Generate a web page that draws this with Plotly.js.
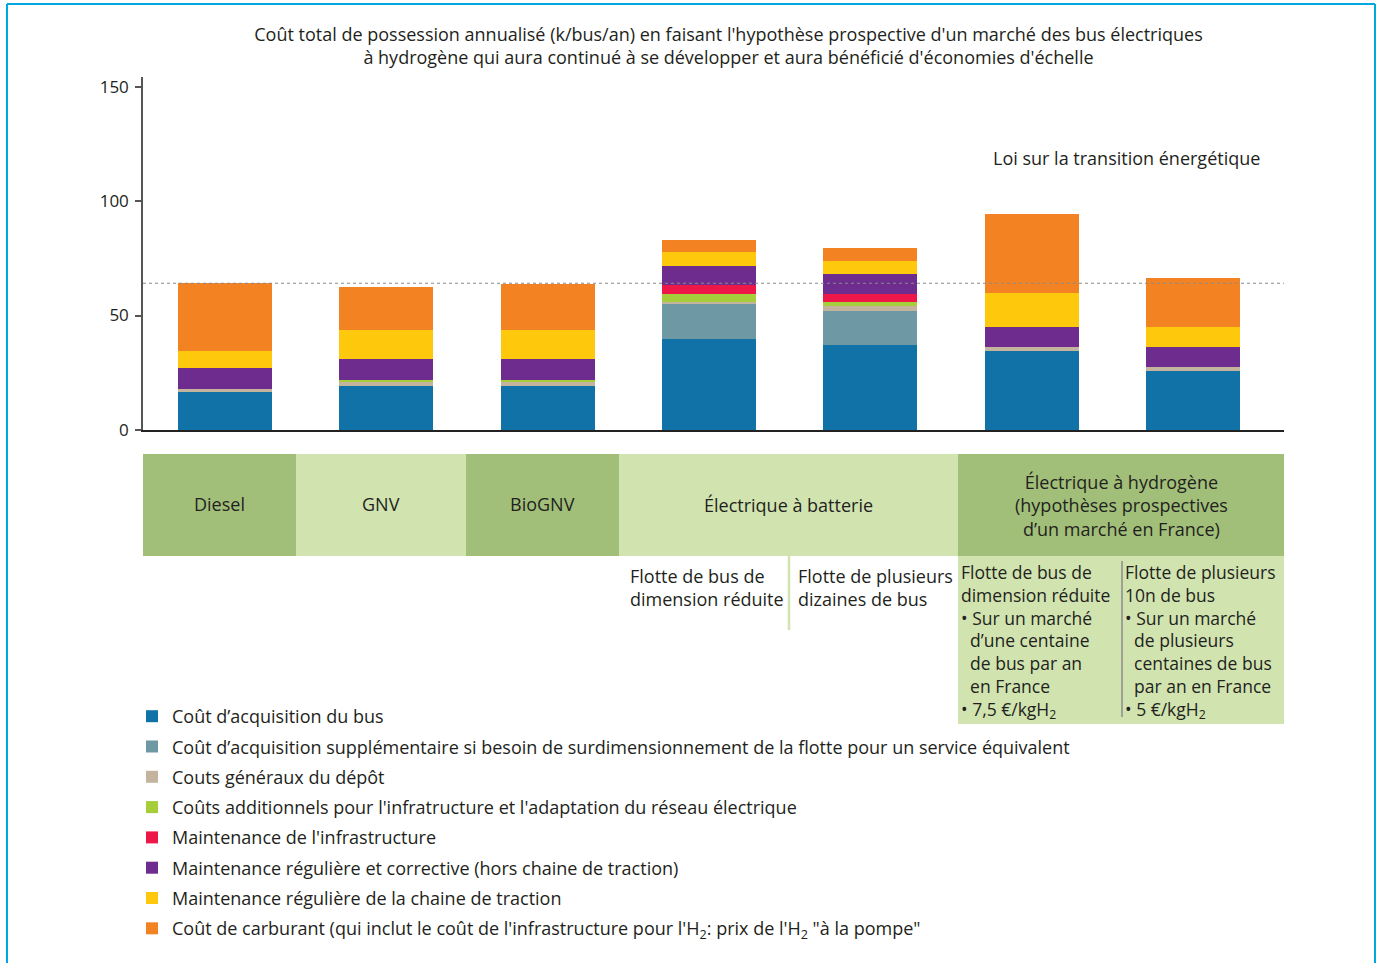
<!DOCTYPE html>
<html>
<head>
<meta charset="utf-8">
<script src="https://cdn.plot.ly/plotly-3.0.1.min.js"></script>
<style>html,body{margin:0;padding:0;background:#fff;}#chart{width:1381px;height:963px;}</style>
</head>
<body>
<div id="chart"></div>
<script>
// ---------- DATA ----------
const categories = [
  "Diesel",
  "GNV",
  "BioGNV",
  "Électrique à batterie – flotte réduite",
  "Électrique à batterie – plusieurs dizaines",
  "Électrique à hydrogène – flotte réduite",
  "Électrique à hydrogène – plusieurs 10n"
];
const acquisitionBus        = [16.7, 19.2, 19.2, 39.8, 37.1, 34.5, 25.8];
const acquisitionSupp       = [0,    0,    0,    15.2, 14.9, 0,    0   ];
const coutsDepot            = [1.2,  1.8,  1.8,  0.9,  2.2,  1.8,  1.7 ];
const coutsInfraReseau      = [0,    1.0,  1.0,  3.5,  1.7,  0,    0   ];
const maintenanceInfra      = [0,    0,    0,    3.9,  3.5,  0,    0   ];
const maintenanceReguliere  = [9.3,  9.0,  9.0,  8.3,  8.7,  8.7,  8.8 ];
const maintenanceTraction   = [7.3,  12.7, 12.7, 6.2,  5.7,  14.9, 8.7 ];
const coutCarburant         = [29.6, 18.8, 20.2, 5.2,  5.7,  34.5, 21.4];

const seriesNames = [
  "Coût d’acquisition du bus",
  "Coût d’acquisition supplémentaire si besoin de surdimensionnement de la flotte pour un service équivalent",
  "Couts généraux du dépôt",
  "Coûts additionnels pour l'infratructure et l'adaptation du réseau électrique",
  "Maintenance de l'infrastructure",
  "Maintenance régulière et corrective (hors chaine de traction)",
  "Maintenance régulière de la chaine de traction",
  "Coût de carburant (qui inclut le coût de l'infrastructure pour l'H<sub>2</sub>: prix de l'H<sub>2</sub> \"à la pompe\""
];
const seriesValues = [acquisitionBus, acquisitionSupp, coutsDepot, coutsInfraReseau,
  maintenanceInfra, maintenanceReguliere, maintenanceTraction, coutCarburant];
const seriesColors = ["#1172a8", "#6f98a5", "#c4b49d", "#a6cd3a", "#ed1847", "#6e2c8e", "#fec90c", "#f38223"];

const yTickVals = [0, 50, 100, 150];
const titleText = "Coût total de possession annualisé (k/bus/an) en faisant l'hypothèse prospective d'un marché des bus électriques<br>à hydrogène qui aura continué à se développer et aura bénéficié d'économies d'échelle";
const lawLabel = "Loi sur la transition énergétique";
const groupLabels = ["Diesel", "GNV", "BioGNV", "Électrique à batterie"];
const hydrogenLabel = ["Électrique à hydrogène", "(hypothèses prospectives", "d’un marché en France)"];
const batterySmall = ["Flotte de bus de", "dimension réduite"];
const batteryLarge = ["Flotte de plusieurs", "dizaines de bus"];
const h2Small = ["Flotte de bus de", "dimension réduite", "• Sur un marché", "\u00a0\u00a0d’une centaine", "\u00a0\u00a0de bus par an", "\u00a0\u00a0en France", "• 7,5 €/kgH<sub>2</sub>"];
const h2Large = ["Flotte de plusieurs", "10n de bus", "• Sur un marché", "\u00a0\u00a0de plusieurs", "\u00a0\u00a0centaines de bus", "\u00a0\u00a0par an en France", "• 5 €/kgH<sub>2</sub>"];
// reference level = total of the Diesel bar
const referenceLevel = seriesValues.reduce((s, arr) => s + arr[0], 0);

// ---------- LAYOUT HELPERS (pixel -> paper) ----------
const W = 1381, H = 963, L = 143, R = 97;
const PW = W - L - R;
const X = px => (px - L) / PW;
const Y = py => 1 - py / H;
const FONT = "Open Sans, Liberation Sans, Arial, sans-serif";
const FS = 18;
const TXT = "#231f20";
const DARK = "#a2bf7a", LIGHT = "#d1e4b0";

const traces = seriesNames.map((name, i) => ({
  type: "bar",
  x: categories,
  y: seriesValues[i],
  name: name,
  legendgroup: "g" + i,
  marker: { color: seriesColors[i], line: { width: 0 } },
  hoverinfo: "name+y"
}));

function rect(x0, x1, y0, y1, color) {
  return { type: "rect", xref: "paper", yref: "paper", x0: X(x0), x1: X(x1), y0: Y(y1), y1: Y(y0),
    fillcolor: color, line: { width: 0 }, layer: "below" };
}
function vline(x, y0, y1, color, w) {
  return { type: "line", xref: "paper", yref: "paper", x0: X(x), x1: X(x), y0: Y(y0), y1: Y(y1),
    line: { color: color, width: w } };
}
function txt(text, x, y, xanchor, size) {
  return { text: Array.isArray(text) ? text.join("<br>") : text, xref: "paper", yref: "paper", x: X(x), y: Y(y),
    xanchor: xanchor, yanchor: "middle", showarrow: false, align: xanchor,
    font: { family: FONT, size: size || FS, color: TXT } };
}

const shapes = [
  // frame
  { type: "line", xref: "paper", yref: "paper", x0: X(7), x1: X(1375), y0: Y(4), y1: Y(4), line: { color: "#00a8e1", width: 2 } },
  vline(7, 4, 963, "#00a8e1", 2),
  vline(1375, 4, 963, "#00a8e1", 2),
  // reference dotted line
  { type: "line", xref: "paper", yref: "y", x0: 0, x1: 1, y0: referenceLevel, y1: referenceLevel,
    line: { color: "#8a8a8a", width: 1.2, dash: "dot" } },
  // category boxes
  rect(143, 296, 454, 556, DARK),
  rect(296, 466, 454, 556, LIGHT),
  rect(466, 619, 454, 556, DARK),
  rect(619, 958, 454, 556, LIGHT),
  rect(958, 1284, 454, 556, DARK),
  rect(958, 1284, 556, 724, LIGHT),
  vline(789, 556, 630, LIGHT, 2.5),
  vline(1122, 561, 717, "#8c8c8c", 1.5)
];

const annotations = [
  txt(lawLabel, 991, 158, "left"),
  txt(groupLabels[0], 219.5, 504, "center"),
  txt(groupLabels[1], 381, 504, "center"),
  txt(groupLabels[2], 542.5, 504, "center"),
  txt(groupLabels[3], 788.5, 505, "center"),
  txt(hydrogenLabel, 1121, 505, "center"),
  txt(batterySmall, 628, 587.5, "left"),
  txt(batteryLarge, 796, 587.5, "left"),
  txt(h2Small, 959, 641.5, "left", 17.5),
  txt(h2Large, 1123, 641.5, "left", 17.5)
];

const layout = {
  width: W, height: H,
  margin: { l: L, r: R, t: 0, b: 0, pad: 0 },
  paper_bgcolor: "#ffffff", plot_bgcolor: "#ffffff",
  font: { family: FONT, size: FS, color: TXT },
  title: { text: titleText, xref: "paper", x: X(728.5), xanchor: "center",
    yref: "container", y: Y(41), yanchor: "top", font: { family: FONT, size: FS, color: TXT } },
  barmode: "stack",
  bargap: 0.417,
  xaxis: { range: [-0.508, 6.565], showticklabels: false, ticks: "", showgrid: false, zeroline: false,
    showline: true, linecolor: "#222222", linewidth: 2, fixedrange: true },
  yaxis: { domain: [Y(430), Y(77)], range: [0, 154.2], tickvals: yTickVals, ticks: "outside", ticklen: 6,
    tickcolor: "#555555", tickwidth: 1.5, showline: true, linecolor: "#555555", linewidth: 1.5,
    ticklabelstandoff: 3,
    showgrid: false, zeroline: false, tickfont: { family: FONT, size: 17, color: TXT }, fixedrange: true },
  showlegend: true,
  legend: { x: X(132), xanchor: "left", y: Y(698), yanchor: "top", traceorder: "grouped",
    tracegroupgap: 3.9, bgcolor: "rgba(0,0,0,0)", borderwidth: 0,
    font: { family: FONT, size: FS, color: TXT } },
  shapes: shapes,
  annotations: annotations
};

Plotly.newPlot("chart", traces, layout, { displayModeBar: false });
</script>
</body>
</html>
